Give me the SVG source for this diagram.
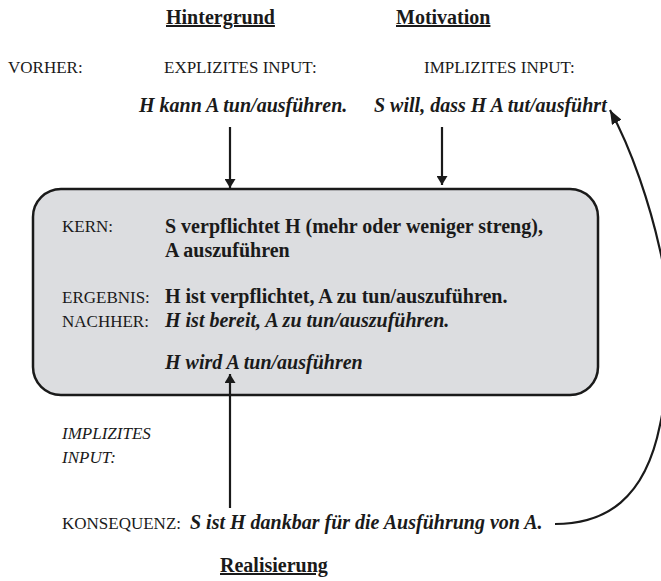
<svg xmlns="http://www.w3.org/2000/svg" width="661" height="581" viewBox="0 0 661 581" font-family="'Liberation Serif', 'DejaVu Serif', serif">
  <style>
    text { font-family: 'Liberation Serif', 'DejaVu Serif', serif; fill: #1a1a1a; }
    .head { font-size: 20px; font-weight: bold; text-decoration: underline; }
    .lab { font-size: 17px; }
    .main { font-size: 20px; font-weight: bold; }
    .it { font-style: italic; }
    .conn { stroke: #1a1a1a; stroke-width: 2.2; fill: none; }
  </style>
  <defs>
    <marker id="arr" viewBox="0 0 10 10" refX="10" refY="5" markerWidth="9" markerHeight="11" orient="auto" markerUnits="userSpaceOnUse" preserveAspectRatio="none">
      <path d="M0,0 L10,5 L0,10 z" fill="#1a1a1a"/>
    </marker>
    <marker id="arrBig" viewBox="0 0 10 10" refX="10" refY="5" markerWidth="14" markerHeight="11" orient="auto" markerUnits="userSpaceOnUse" preserveAspectRatio="none">
      <path d="M0,0 L10,5 L0,10 z" fill="#1a1a1a"/>
    </marker>
  </defs>

  <g id="headings">
    <text class="head" x="166" y="24">Hintergrund</text>
    <text class="head" x="396" y="24">Motivation</text>
    <text class="head" x="220" y="572">Realisierung</text>
  </g>

  <g id="vorher">
    <text class="lab" x="8" y="73">VORHER:</text>
    <text class="lab" x="164" y="73">EXPLIZITES INPUT:</text>
    <text class="lab" x="424" y="73">IMPLIZITES INPUT:</text>
  </g>

  <g id="explizit">
    <text class="main it" x="139" y="112">H kann A tun/ausführen.</text>
  </g>
  <g id="implizit">
    <text class="main it" x="374" y="112">S will, dass H A tut/ausführt</text>
  </g>

  <g id="kern">
    <rect x="33" y="189" width="565" height="206" rx="28" ry="28" fill="#dcdde0" stroke="#1a1a1a" stroke-width="2.5"/>
    <text class="lab" x="62" y="232">KERN:</text>
    <text class="main" x="165" y="233">S verpflichtet H (mehr oder weniger streng),</text>
    <text class="main" x="165" y="257">A auszuführen</text>
    <text class="lab" x="62" y="303">ERGEBNIS:</text>
    <text class="main" x="165" y="303">H ist verpflichtet, A zu tun/auszuführen.</text>
    <text class="lab" x="62" y="327">NACHHER:</text>
    <text class="main it" x="165" y="327">H ist bereit, A zu tun/auszuführen.</text>
    <text class="main it" x="165" y="369">H wird A tun/ausführen</text>
  </g>

  <g id="implizit-input">
    <text class="lab it" x="62" y="439">IMPLIZITES</text>
    <text class="lab it" x="62" y="463">INPUT:</text>
  </g>

  <g id="konsequenz">
    <text class="lab" x="62" y="529">KONSEQUENZ:</text>
    <text class="main it" x="190" y="529">S ist H dankbar für die Ausführung von A.</text>
  </g>

  <g id="connectors">
    <line class="conn" x1="230" y1="127" x2="230" y2="188" marker-end="url(#arr)"/>
    <line class="conn" x1="442" y1="127" x2="442" y2="185" marker-end="url(#arr)"/>
    <line class="conn" x1="230" y1="508" x2="230" y2="374" marker-end="url(#arr)"/>
    <path class="conn" d="M555,524 C605,524 645,500 660,425 C670,380 672,300 660,250 C650,205 632,150 610,110" marker-end="url(#arrBig)"/>
  </g>
</svg>
